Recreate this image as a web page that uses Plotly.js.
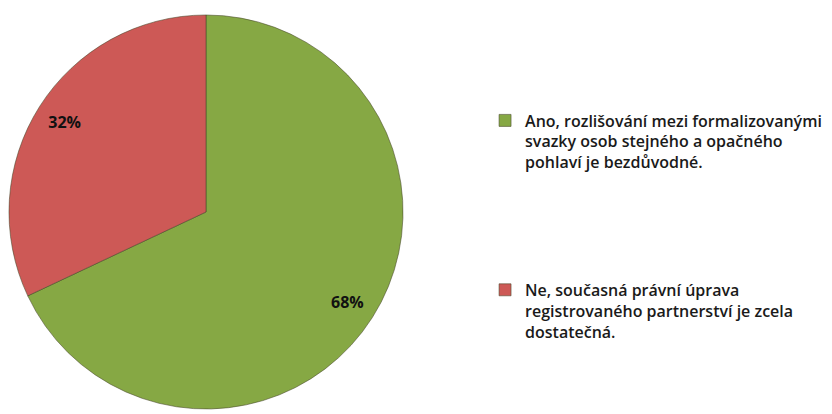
<!DOCTYPE html>
<html>
<head>
<meta charset="utf-8">
<script src="https://cdn.plot.ly/plotly-3.0.1.min.js"></script>
<style>html,body{margin:0;padding:0;background:#fff;}#chart{width:832px;height:414px;}</style>
</head>
<body>
<div id="chart"></div>
<script>
const labels = [
  "Ano, rozlišování mezi formalizovanými<br>svazky osob stejného a opačného<br>pohlaví je bezdůvodné.<br> <br> <br> <br> <br> ",
  "Ne, současná právní úprava<br>registrovaného partnerství je zcela<br>dostatečná."
];
const values = [68, 32];
const colors = ["#86A844", "#CD5956"];

const dom = {x: [0.0108, 0.4844], y: [0.0121, 0.9638]};

const pieMain = {
  type: "pie",
  labels: labels,
  values: values,
  sort: false,
  direction: "clockwise",
  rotation: 0,
  domain: dom,
  marker: {colors: colors, line: {color: "rgba(70,70,40,0.55)", width: 1}},
  textinfo: "none",
  hoverinfo: "none",
  showlegend: true
};

const pieText = {
  type: "pie",
  labels: labels,
  values: values,
  sort: false,
  direction: "clockwise",
  rotation: 0,
  hole: 0.7,
  domain: dom,
  marker: {colors: ["rgba(0,0,0,0)", "rgba(0,0,0,0)"], line: {width: 0}},
  textinfo: "percent",
  texttemplate: "%{percent:.0%}",
  textposition: "inside",
  insidetextorientation: "horizontal",
  textfont: {family: "'Open Sans', sans-serif", size: 16, color: "#111", weight: "bold"},
  hoverinfo: "none",
  showlegend: false
};

const layout = {
  width: 832,
  height: 414,
  margin: {l: 0, r: 0, t: 0, b: 0},
  paper_bgcolor: "#ffffff",
  showlegend: true,
  legend: {
    x: 0.583,
    y: 0.75,
    xanchor: "left",
    yanchor: "top",
    valign: "top",
    itemwidth: 30,
    font: {family: "'Open Sans', sans-serif", size: 16, color: "#1a1a1a", weight: 600},
    bgcolor: "rgba(0,0,0,0)"
  }
};

Plotly.newPlot("chart", [pieMain, pieText], layout, {displayModeBar: false, staticPlot: true});
</script>
</body>
</html>
